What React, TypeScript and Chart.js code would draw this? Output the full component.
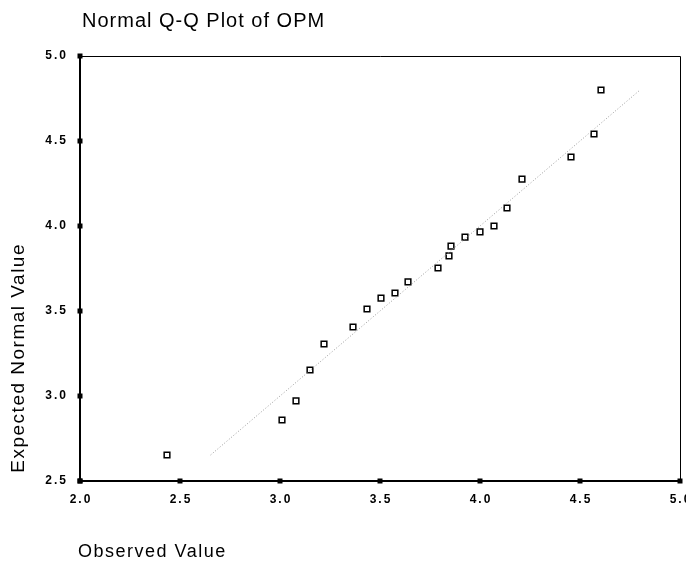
import React, { useEffect, useRef } from "react";
import { Chart, registerables } from "chart.js";

Chart.register(...registerables);

const chartTitle = "Normal Q-Q Plot of OPM";
const xAxisTitle = "Observed Value";
const yAxisTitle = "Expected Normal Value";

const observedValues = [2.435, 3.01, 3.08, 3.15, 3.22, 3.365, 3.435, 3.505, 3.575, 3.64, 3.79, 3.845, 3.855, 3.925, 4.0, 4.07, 4.135, 4.21, 4.455, 4.57, 4.605];
const expectedValues = [2.653, 2.859, 2.971, 3.153, 3.306, 3.406, 3.512, 3.576, 3.606, 3.671, 3.753, 3.824, 3.882, 3.935, 3.965, 4.0, 4.106, 4.276, 4.406, 4.541, 4.8];
const referenceLine = [2.653, 4.8];

const xTickValues = [2.0, 2.5, 3.0, 3.5, 4.0, 4.5, 5.0];
const yTickValues = [2.5, 3.0, 3.5, 4.0, 4.5, 5.0];
const FONT = '"Liberation Sans", Arial, Helvetica, sans-serif';

const decorPlugin = {
  id: "qqDecor",
  afterDraw(chart: any) {
    const ctx = chart.ctx as CanvasRenderingContext2D;
    const { left, right, top, bottom } = chart.chartArea;
    const xs = chart.scales.x;
    const ys = chart.scales.y;
    ctx.save();
    // frame top & right
    ctx.strokeStyle = "#000";
    ctx.lineWidth = 1;
    ctx.beginPath();
    ctx.moveTo(left, top + 0.5);
    ctx.lineTo(right + 0.5, top + 0.5);
    ctx.lineTo(right + 0.5, bottom);
    ctx.stroke();

    ctx.fillStyle = "#000";
    ctx.font = `bold 12px ${FONT}`;
    (ctx as any).letterSpacing = "2px";
    ctx.textBaseline = "middle";
    xTickValues.forEach((v) => {
      const px = xs.getPixelForValue(v);
      ctx.fillRect(px - 2.5, bottom - 2.5, 5, 5);
      ctx.textAlign = "center";
      ctx.fillText(v.toFixed(1), px + 1, 500);
    });
    yTickValues.forEach((v) => {
      const py = ys.getPixelForValue(v);
      ctx.fillRect(left - 2.5, py - 2.5, 5, 5);
      ctx.textAlign = "right";
      ctx.fillText(v.toFixed(1), 68, py);
    });

    // title
    ctx.font = `20px ${FONT}`;
    (ctx as any).letterSpacing = "1px";
    ctx.textAlign = "left";
    ctx.fillText(chartTitle, 82, 21);

    // x axis title
    ctx.font = `18px ${FONT}`;
    (ctx as any).letterSpacing = "1.5px";
    ctx.fillText(xAxisTitle, 78, 552);

    // y axis title
    ctx.font = `19px ${FONT}`;
    (ctx as any).letterSpacing = "1.5px";
    ctx.translate(19, 243);
    ctx.rotate(-Math.PI / 2);
    ctx.textAlign = "right";
    ctx.fillText(yAxisTitle, 0, 0);
    ctx.restore();
  },
};

export default function App() {
  const canvasRef = useRef<HTMLCanvasElement | null>(null);

  useEffect(() => {
    if (!canvasRef.current) return;
    const chart = new Chart(canvasRef.current, {
      type: "scatter",
      data: {
        datasets: [
          {
            type: "line" as any,
            data: referenceLine.map((v) => ({ x: v, y: v })),
            borderColor: "#9a9a9a",
            borderWidth: 1,
            borderDash: [1, 2],
            pointRadius: 0,
            fill: false,
          },
          {
            data: observedValues.map((x, i) => ({ x, y: expectedValues[i] })),
            pointStyle: "rect",
            pointRadius: 4,
            borderColor: "#000",
            backgroundColor: "#fff",
            borderWidth: 1.5,
          },
        ],
      },
      options: {
        responsive: false,
        animation: false,
        devicePixelRatio: 1,
        layout: { autoPadding: false, padding: { top: 56, right: 6, bottom: 0, left: 0 } },
        plugins: { legend: { display: false }, tooltip: { enabled: false }, title: { display: false } },
        scales: {
          x: {
            type: "linear",
            min: 2,
            max: 5,
            ticks: { display: false, stepSize: 0.5 },
            grid: { display: false },
            border: { display: true, color: "#000", width: 2 },
            afterFit: (s: any) => { s.height = 81; },
          },
          y: {
            type: "linear",
            min: 2.5,
            max: 5,
            ticks: { display: false, stepSize: 0.5 },
            grid: { display: false },
            border: { display: true, color: "#000", width: 2 },
            afterFit: (s: any) => { s.width = 80; },
          },
        },
      },
      plugins: [decorPlugin],
    });
    return () => chart.destroy();
  }, []);

  return (
    <div style={{ position: "fixed", left: 0, top: 0, width: 686, height: 562, background: "#fff" }}>
      <canvas ref={canvasRef} width={686} height={562} style={{ display: "block" }} />
    </div>
  );
}
